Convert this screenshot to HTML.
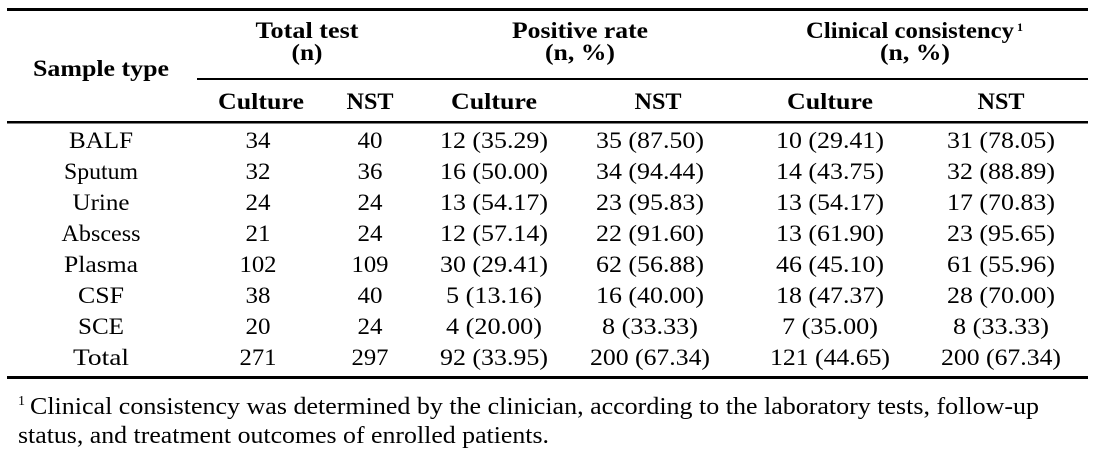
<!DOCTYPE html>
<html><head><style>body{margin:0;background:#fff}svg{display:block}svg text{font-family:"Liberation Serif","Times New Roman",serif}</style></head>
<body>
<svg width="1094" height="456" xmlns="http://www.w3.org/2000/svg" fill="#000">
<rect x="7" y="8" width="1081" height="3"/>
<rect x="197" y="78" width="891" height="2"/>
<rect x="7" y="121" width="1081" height="2.5"/>
<rect x="7" y="376" width="1081" height="3"/>
<g font-weight="bold" font-size="23" text-anchor="middle" lengthAdjust="spacingAndGlyphs">
<text x="101" y="76" textLength="136" lengthAdjust="spacingAndGlyphs">Sample type</text>
<text x="307" y="38" textLength="103" lengthAdjust="spacingAndGlyphs">Total test</text>
<text x="307" y="60" textLength="31" lengthAdjust="spacingAndGlyphs">(n)</text>
<text x="580" y="38" textLength="136" lengthAdjust="spacingAndGlyphs">Positive rate</text>
<text x="580" y="60" textLength="70" lengthAdjust="spacingAndGlyphs">(n, %)</text>
<text x="910" y="38" textLength="208" lengthAdjust="spacingAndGlyphs">Clinical consistency</text>
<text x="1020" y="31" font-size="12">1</text>
<text x="915" y="60" textLength="70" lengthAdjust="spacingAndGlyphs">(n, %)</text>
<text x="261" y="109" textLength="86" lengthAdjust="spacingAndGlyphs">Culture</text>
<text x="370" y="109" textLength="47" lengthAdjust="spacingAndGlyphs">NST</text>
<text x="494" y="109" textLength="86" lengthAdjust="spacingAndGlyphs">Culture</text>
<text x="658" y="109" textLength="47" lengthAdjust="spacingAndGlyphs">NST</text>
<text x="830" y="109" textLength="86" lengthAdjust="spacingAndGlyphs">Culture</text>
<text x="1001" y="109" textLength="47" lengthAdjust="spacingAndGlyphs">NST</text>
</g>
<g font-size="23" text-anchor="middle">
<g transform="translate(0,148)"><text x="101" textLength="64" lengthAdjust="spacingAndGlyphs">BALF</text><text x="258" textLength="25" lengthAdjust="spacingAndGlyphs">34</text><text x="370" textLength="25" lengthAdjust="spacingAndGlyphs">40</text><text x="494" textLength="108" lengthAdjust="spacingAndGlyphs">12 (35.29)</text><text x="650" textLength="108" lengthAdjust="spacingAndGlyphs">35 (87.50)</text><text x="830" textLength="108" lengthAdjust="spacingAndGlyphs">10 (29.41)</text><text x="1001" textLength="108" lengthAdjust="spacingAndGlyphs">31 (78.05)</text></g>
<g transform="translate(0,179)"><text x="101" textLength="74" lengthAdjust="spacingAndGlyphs">Sputum</text><text x="258" textLength="25" lengthAdjust="spacingAndGlyphs">32</text><text x="370" textLength="25" lengthAdjust="spacingAndGlyphs">36</text><text x="494" textLength="108" lengthAdjust="spacingAndGlyphs">16 (50.00)</text><text x="650" textLength="108" lengthAdjust="spacingAndGlyphs">34 (94.44)</text><text x="830" textLength="108" lengthAdjust="spacingAndGlyphs">14 (43.75)</text><text x="1001" textLength="108" lengthAdjust="spacingAndGlyphs">32 (88.89)</text></g>
<g transform="translate(0,210)"><text x="101" textLength="57" lengthAdjust="spacingAndGlyphs">Urine</text><text x="258" textLength="25" lengthAdjust="spacingAndGlyphs">24</text><text x="370" textLength="25" lengthAdjust="spacingAndGlyphs">24</text><text x="494" textLength="108" lengthAdjust="spacingAndGlyphs">13 (54.17)</text><text x="650" textLength="108" lengthAdjust="spacingAndGlyphs">23 (95.83)</text><text x="830" textLength="108" lengthAdjust="spacingAndGlyphs">13 (54.17)</text><text x="1001" textLength="108" lengthAdjust="spacingAndGlyphs">17 (70.83)</text></g>
<g transform="translate(0,241)"><text x="101" textLength="79" lengthAdjust="spacingAndGlyphs">Abscess</text><text x="258" textLength="25" lengthAdjust="spacingAndGlyphs">21</text><text x="370" textLength="25" lengthAdjust="spacingAndGlyphs">24</text><text x="494" textLength="108" lengthAdjust="spacingAndGlyphs">12 (57.14)</text><text x="650" textLength="108" lengthAdjust="spacingAndGlyphs">22 (91.60)</text><text x="830" textLength="108" lengthAdjust="spacingAndGlyphs">13 (61.90)</text><text x="1001" textLength="108" lengthAdjust="spacingAndGlyphs">23 (95.65)</text></g>
<g transform="translate(0,272)"><text x="101" textLength="74" lengthAdjust="spacingAndGlyphs">Plasma</text><text x="258" textLength="37" lengthAdjust="spacingAndGlyphs">102</text><text x="370" textLength="37" lengthAdjust="spacingAndGlyphs">109</text><text x="494" textLength="108" lengthAdjust="spacingAndGlyphs">30 (29.41)</text><text x="650" textLength="108" lengthAdjust="spacingAndGlyphs">62 (56.88)</text><text x="830" textLength="108" lengthAdjust="spacingAndGlyphs">46 (45.10)</text><text x="1001" textLength="108" lengthAdjust="spacingAndGlyphs">61 (55.96)</text></g>
<g transform="translate(0,303)"><text x="101" textLength="46" lengthAdjust="spacingAndGlyphs">CSF</text><text x="258" textLength="25" lengthAdjust="spacingAndGlyphs">38</text><text x="370" textLength="25" lengthAdjust="spacingAndGlyphs">40</text><text x="494" textLength="96" lengthAdjust="spacingAndGlyphs">5 (13.16)</text><text x="650" textLength="108" lengthAdjust="spacingAndGlyphs">16 (40.00)</text><text x="830" textLength="108" lengthAdjust="spacingAndGlyphs">18 (47.37)</text><text x="1001" textLength="108" lengthAdjust="spacingAndGlyphs">28 (70.00)</text></g>
<g transform="translate(0,334)"><text x="101" textLength="46" lengthAdjust="spacingAndGlyphs">SCE</text><text x="258" textLength="25" lengthAdjust="spacingAndGlyphs">20</text><text x="370" textLength="25" lengthAdjust="spacingAndGlyphs">24</text><text x="494" textLength="96" lengthAdjust="spacingAndGlyphs">4 (20.00)</text><text x="650" textLength="96" lengthAdjust="spacingAndGlyphs">8 (33.33)</text><text x="830" textLength="96" lengthAdjust="spacingAndGlyphs">7 (35.00)</text><text x="1001" textLength="96" lengthAdjust="spacingAndGlyphs">8 (33.33)</text></g>
<g transform="translate(0,365)"><text x="101" textLength="56" lengthAdjust="spacingAndGlyphs">Total</text><text x="258" textLength="37" lengthAdjust="spacingAndGlyphs">271</text><text x="370" textLength="37" lengthAdjust="spacingAndGlyphs">297</text><text x="494" textLength="108" lengthAdjust="spacingAndGlyphs">92 (33.95)</text><text x="650" textLength="120" lengthAdjust="spacingAndGlyphs">200 (67.34)</text><text x="830" textLength="120" lengthAdjust="spacingAndGlyphs">121 (44.65)</text><text x="1001" textLength="120" lengthAdjust="spacingAndGlyphs">200 (67.34)</text></g>
</g>
<g font-size="24">
<text x="18" y="405" font-size="14">1</text>
<text x="30" y="414" textLength="1009" lengthAdjust="spacingAndGlyphs">Clinical consistency was determined by the clinician, according to the laboratory tests, follow-up</text>
<text x="18" y="443" textLength="531" lengthAdjust="spacingAndGlyphs">status, and treatment outcomes of enrolled patients.</text>
</g>
</svg>
</body></html>
